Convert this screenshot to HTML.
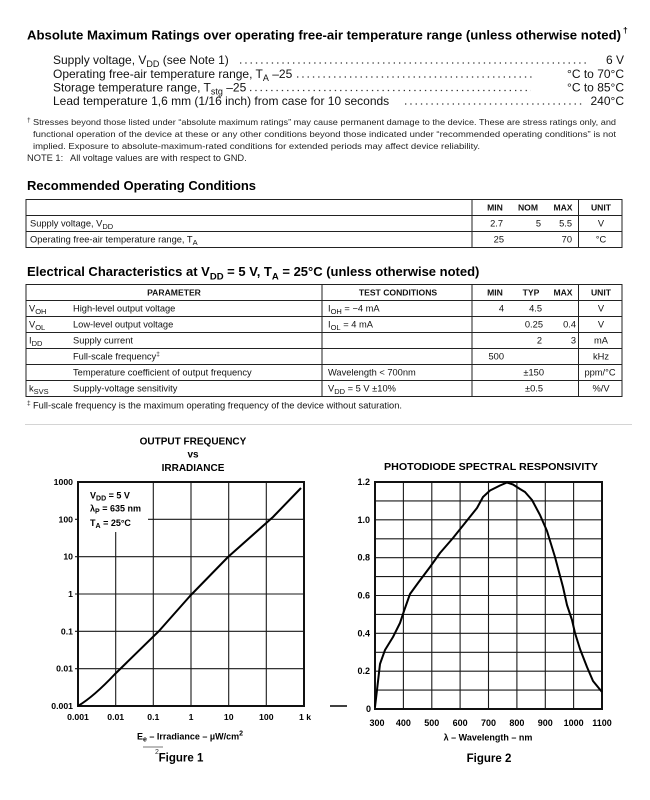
<!DOCTYPE html>
<html><head><meta charset="utf-8">
<style>
html,body{margin:0;padding:0;background:#fff;}
svg{display:block;font-family:"Liberation Sans",Arial,sans-serif;}
.b{font-weight:bold;}
</style></head>
<body>
<svg width="650" height="800" viewBox="0 0 650 800" xmlns="http://www.w3.org/2000/svg">
<rect width="650" height="800" fill="#fff"/>

<!-- Absolute Maximum Ratings -->
<g fill="#000">
<text x="27" y="39.5" font-size="13.2" class="b" textLength="594" lengthAdjust="spacingAndGlyphs">Absolute Maximum Ratings over operating free-air temperature range (unless otherwise noted)</text>
<text x="623" y="33" font-size="8.5" class="b">†</text>

<g font-size="12" fill="#111">
<text x="53" y="64">Supply voltage, V<tspan font-size="9" dy="3">DD</tspan><tspan dy="-3"> (see Note 1)</tspan></text>
<text x="624" y="64" text-anchor="end">6 V</text>

<text x="53" y="78">Operating free-air temperature range, T<tspan font-size="9" dy="3">A</tspan><tspan dy="-3"> –25</tspan></text>
<text x="624" y="78" text-anchor="end">°C to 70°C</text>

<text x="53" y="91.5">Storage temperature range, T<tspan font-size="9" dy="3">stg</tspan><tspan dy="-3"> –25</tspan></text>
<text x="624" y="91.5" text-anchor="end">°C to 85°C</text>

<text x="53" y="105">Lead temperature 1,6 mm (1/16 inch) from case for 10 seconds</text>
<text x="624" y="105" text-anchor="end">240°C</text>
</g>
<g stroke="#333" stroke-width="1.3" stroke-dasharray="1.3 4">
<line x1="240" y1="63" x2="586" y2="63"/>
<line x1="297" y1="77" x2="534" y2="77"/>
<line x1="250" y1="90.5" x2="531" y2="90.5"/>
<line x1="405" y1="104" x2="582" y2="104"/>
</g>

<g font-size="8.6" fill="#222">
<text x="27" y="122" font-size="6.5">†</text>
<text x="33" y="125" textLength="583" lengthAdjust="spacingAndGlyphs">Stresses beyond those listed under “absolute maximum ratings” may cause permanent damage to the device. These are stress ratings only, and</text>
<text x="33" y="137" textLength="583" lengthAdjust="spacingAndGlyphs">functional operation of the device at these or any other conditions beyond those indicated under “recommended operating conditions” is not</text>
<text x="33" y="149" textLength="447" lengthAdjust="spacingAndGlyphs">implied. Exposure to absolute-maximum-rated conditions for extended periods may affect device reliability.</text>
<text x="27" y="161" font-size="9.3">NOTE 1:</text>
<text x="70" y="161" font-size="9.3">All voltage values are with respect to GND.</text>
</g>

<!-- Recommended Operating Conditions -->
<text x="27" y="190" font-size="13.2" class="b" textLength="229" lengthAdjust="spacingAndGlyphs">Recommended Operating Conditions</text>
</g>

<g stroke="#222" stroke-width="1" fill="none">
<rect x="26" y="199.5" width="596" height="48"/>
<line x1="26" y1="215.5" x2="622" y2="215.5"/>
<line x1="26" y1="231.5" x2="622" y2="231.5"/>
<line x1="472" y1="199.5" x2="472" y2="247.5"/>
<line x1="578.5" y1="199.5" x2="578.5" y2="247.5"/>
</g>
<g font-size="9.3" fill="#111">
<g class="b" text-anchor="middle" font-size="8.6">
<text x="495" y="210.5">MIN</text>
<text x="528" y="210.5">NOM</text>
<text x="563" y="210.5">MAX</text>
<text x="601" y="210.5">UNIT</text>
</g>
<text x="30" y="226.5">Supply voltage, V<tspan font-size="7.5" dy="2.5">DD</tspan></text>
<text x="503" y="226.5" text-anchor="end">2.7</text>
<text x="541" y="226.5" text-anchor="end">5</text>
<text x="572" y="226.5" text-anchor="end">5.5</text>
<text x="601" y="226.5" text-anchor="middle">V</text>
<text x="30" y="242.5">Operating free-air temperature range, T<tspan font-size="7.5" dy="2.5">A</tspan></text>
<text x="504" y="242.5" text-anchor="end">25</text>
<text x="572" y="242.5" text-anchor="end">70</text>
<text x="601" y="242.5" text-anchor="middle">°C</text>
</g>

<!-- Electrical Characteristics -->
<text x="27" y="276" font-size="13" class="b" fill="#000">Electrical Characteristics at V<tspan dy="3.5" font-size="9.5">DD</tspan><tspan dy="-3.5"> = 5 V, T</tspan><tspan dy="3.5" font-size="9.5">A</tspan><tspan dy="-3.5"> = 25°C (unless otherwise noted)</tspan></text>

<g stroke="#222" stroke-width="1" fill="none">
<rect x="26" y="284.5" width="596" height="112"/>
<line x1="26" y1="300.5" x2="622" y2="300.5"/>
<line x1="26" y1="316.5" x2="622" y2="316.5"/>
<line x1="26" y1="332.5" x2="622" y2="332.5"/>
<line x1="26" y1="348.5" x2="622" y2="348.5"/>
<line x1="26" y1="364.5" x2="622" y2="364.5"/>
<line x1="26" y1="380.5" x2="622" y2="380.5"/>
<line x1="322" y1="284.5" x2="322" y2="396.5"/>
<line x1="472" y1="284.5" x2="472" y2="396.5"/>
<line x1="578.5" y1="284.5" x2="578.5" y2="396.5"/>
</g>
<g font-size="9.3" fill="#111">
<g class="b" text-anchor="middle" font-size="8.6">
<text x="174" y="295.5">PARAMETER</text>
<text x="398" y="295.5">TEST CONDITIONS</text>
<text x="495" y="295.5">MIN</text>
<text x="531" y="295.5">TYP</text>
<text x="563" y="295.5">MAX</text>
<text x="601" y="295.5">UNIT</text>
</g>
<!-- row 1 -->
<text x="29" y="311.5">V<tspan font-size="7.5" dy="2.5">OH</tspan></text>
<text x="73" y="311.5">High-level output voltage</text>
<text x="328" y="311.5">I<tspan font-size="7.5" dy="2.5">OH</tspan><tspan dy="-2.5"> = −4 mA</tspan></text>
<text x="504" y="311.5" text-anchor="end">4</text>
<text x="542" y="311.5" text-anchor="end">4.5</text>
<text x="601" y="311.5" text-anchor="middle">V</text>
<!-- row 2 -->
<text x="29" y="327.5">V<tspan font-size="7.5" dy="2.5">OL</tspan></text>
<text x="73" y="327.5">Low-level output voltage</text>
<text x="328" y="327.5">I<tspan font-size="7.5" dy="2.5">OL</tspan><tspan dy="-2.5"> = 4 mA</tspan></text>
<text x="543" y="327.5" text-anchor="end">0.25</text>
<text x="576" y="327.5" text-anchor="end">0.4</text>
<text x="601" y="327.5" text-anchor="middle">V</text>
<!-- row 3 -->
<text x="29" y="343.5">I<tspan font-size="7.5" dy="2.5">DD</tspan></text>
<text x="73" y="343.5">Supply current</text>
<text x="542" y="343.5" text-anchor="end">2</text>
<text x="576" y="343.5" text-anchor="end">3</text>
<text x="601" y="343.5" text-anchor="middle">mA</text>
<!-- row 4 -->
<text x="73" y="359.5">Full-scale frequency<tspan font-size="6.5" dy="-3.5">‡</tspan></text>
<text x="504" y="359.5" text-anchor="end">500</text>
<text x="601" y="359.5" text-anchor="middle">kHz</text>
<!-- row 5 -->
<text x="73" y="375.5">Temperature coefficient of output frequency</text>
<text x="328" y="375.5">Wavelength &lt; 700nm</text>
<text x="544" y="375.5" text-anchor="end">±150</text>
<text x="600" y="375.5" text-anchor="middle">ppm/°C</text>
<!-- row 6 -->
<text x="29" y="391.5">k<tspan font-size="7.5" dy="2.5">SVS</tspan></text>
<text x="73" y="391.5">Supply-voltage sensitivity</text>
<text x="328" y="391.5">V<tspan font-size="7.5" dy="2.5">DD</tspan><tspan dy="-2.5"> = 5 V ±10%</tspan></text>
<text x="543" y="391.5" text-anchor="end">±0.5</text>
<text x="601" y="391.5" text-anchor="middle">%/V</text>
</g>

<text x="27" y="405" font-size="6.5" fill="#111">‡</text>
<text x="33" y="408.5" font-size="9.3" fill="#111">Full-scale frequency is the maximum operating frequency of the device without saturation.</text>

<line x1="25" y1="424.5" x2="632" y2="424.5" stroke="#d4d4d4" stroke-width="1"/>

<!-- ===== Chart 1 ===== -->
<g class="b" font-size="10" text-anchor="middle" fill="#000">
<text x="193" y="444.5">OUTPUT FREQUENCY</text>
<text x="193" y="457.5">vs</text>
<text x="193" y="471">IRRADIANCE</text>
</g>
<g stroke="#1a1a1a" stroke-width="1.1">
<line x1="115.7" y1="482" x2="115.7" y2="706"/>
<line x1="153.3" y1="482" x2="153.3" y2="706"/>
<line x1="191" y1="482" x2="191" y2="706"/>
<line x1="228.7" y1="482" x2="228.7" y2="706"/>
<line x1="266.3" y1="482" x2="266.3" y2="706"/>
<line x1="75" y1="519.3" x2="304" y2="519.3"/>
<line x1="75" y1="556.7" x2="304" y2="556.7"/>
<line x1="75" y1="594" x2="304" y2="594"/>
<line x1="75" y1="631.3" x2="304" y2="631.3"/>
<line x1="75" y1="668.7" x2="304" y2="668.7"/>
</g>
<rect x="79" y="483" width="69" height="49" fill="#fff"/>
<rect x="78" y="482" width="226" height="224" fill="none" stroke="#111" stroke-width="2"/>
<path d="M78,706 C88,700 100,690 115,674 L159,631 L190,596 L228,557 L273,517 L301,488" fill="none" stroke="#000" stroke-width="2" stroke-linejoin="round"/>
<g class="b" font-size="9" fill="#000">
<text x="90" y="498.5">V<tspan font-size="7" dy="2">DD</tspan><tspan dy="-2"> = 5 V</tspan></text>
<text x="90" y="511.5">λ<tspan font-size="7" dy="2">P</tspan><tspan dy="-2"> = 635 nm</tspan></text>
<text x="90" y="526">T<tspan font-size="7" dy="2">A</tspan><tspan dy="-2"> = 25°C</tspan></text>
</g>
<g class="b" font-size="8.7" fill="#000" text-anchor="end">
<text x="73" y="485">1000</text>
<text x="73" y="522.3">100</text>
<text x="73" y="559.7">10</text>
<text x="73" y="597">1</text>
<text x="73" y="634.3">0.1</text>
<text x="73" y="671.7">0.01</text>
<text x="73" y="709">0.001</text>
</g>
<g class="b" font-size="8.7" fill="#000" text-anchor="middle">
<text x="78" y="720">0.001</text>
<text x="115.7" y="720">0.01</text>
<text x="153.3" y="720">0.1</text>
<text x="191" y="720">1</text>
<text x="228.7" y="720">10</text>
<text x="266.3" y="720">100</text>
<text x="305" y="720">1 k</text>
</g>
<text x="190" y="739.5" class="b" font-size="9" fill="#000" text-anchor="middle">E<tspan font-size="7" dy="2">e</tspan><tspan dy="-2"> – Irradiance – µW/cm</tspan><tspan font-size="7" dy="-4">2</tspan></text>
<line x1="143" y1="747" x2="163" y2="747" stroke="#777" stroke-width="1"/>
<text x="155" y="754" font-size="7" fill="#333">2</text>
<text x="181" y="761.5" font-size="11.5" class="b" text-anchor="middle">Figure 1</text>

<!-- ===== Chart 2 ===== -->
<text x="491" y="470" font-size="10" class="b" text-anchor="middle" textLength="214" lengthAdjust="spacingAndGlyphs">PHOTODIODE SPECTRAL RESPONSIVITY</text>
<g stroke="#1a1a1a" stroke-width="1.1">
<line x1="403.4" y1="482" x2="403.4" y2="709"/>
<line x1="431.8" y1="482" x2="431.8" y2="709"/>
<line x1="460.1" y1="482" x2="460.1" y2="709"/>
<line x1="488.5" y1="482" x2="488.5" y2="709"/>
<line x1="516.9" y1="482" x2="516.9" y2="709"/>
<line x1="545.3" y1="482" x2="545.3" y2="709"/>
<line x1="573.6" y1="482" x2="573.6" y2="709"/>
<line x1="375" y1="500.9" x2="602" y2="500.9"/>
<line x1="375" y1="519.8" x2="602" y2="519.8"/>
<line x1="375" y1="538.8" x2="602" y2="538.8"/>
<line x1="375" y1="557.7" x2="602" y2="557.7"/>
<line x1="375" y1="576.6" x2="602" y2="576.6"/>
<line x1="375" y1="595.5" x2="602" y2="595.5"/>
<line x1="375" y1="614.4" x2="602" y2="614.4"/>
<line x1="375" y1="633.3" x2="602" y2="633.3"/>
<line x1="375" y1="652.3" x2="602" y2="652.3"/>
<line x1="375" y1="671.2" x2="602" y2="671.2"/>
<line x1="375" y1="690.1" x2="602" y2="690.1"/>
</g>
<rect x="375" y="482" width="227" height="227" fill="none" stroke="#111" stroke-width="2"/>
<polyline points="375,707 377,690 380,664 385,650 393,637 400,623 404,611 410,594 418,583 430,567 440,553 453,538 465,523 477,508 483,497 490,490.5 500,485.5 507,482.5 513,484.5 520,489 525,492 532,500 540,515 547,531 555,557 563,587 567,605 572,620 575,633 580,649 587,667 593,681 602,692" fill="none" stroke="#000" stroke-width="2" stroke-linejoin="round"/>
<line x1="330" y1="706" x2="347" y2="706" stroke="#000" stroke-width="1.5"/>
<g class="b" font-size="9" fill="#000" text-anchor="end">
<text x="370" y="485">1.2</text>
<text x="370" y="522.8">1.0</text>
<text x="370" y="560.7">0.8</text>
<text x="370" y="598.5">0.6</text>
<text x="370" y="636.3">0.4</text>
<text x="370" y="674.2">0.2</text>
<text x="371" y="712">0</text>
</g>
<g class="b" font-size="9" fill="#000" text-anchor="middle">
<text x="377" y="726">300</text>
<text x="403.4" y="726">400</text>
<text x="431.8" y="726">500</text>
<text x="460.1" y="726">600</text>
<text x="488.5" y="726">700</text>
<text x="516.9" y="726">800</text>
<text x="545.3" y="726">900</text>
<text x="573.6" y="726">1000</text>
<text x="602" y="726">1100</text>
</g>
<text x="488" y="740.5" font-size="9" class="b" text-anchor="middle">λ – Wavelength – nm</text>
<text x="489" y="762" font-size="11.5" class="b" text-anchor="middle">Figure 2</text>
</svg>
</body></html>
